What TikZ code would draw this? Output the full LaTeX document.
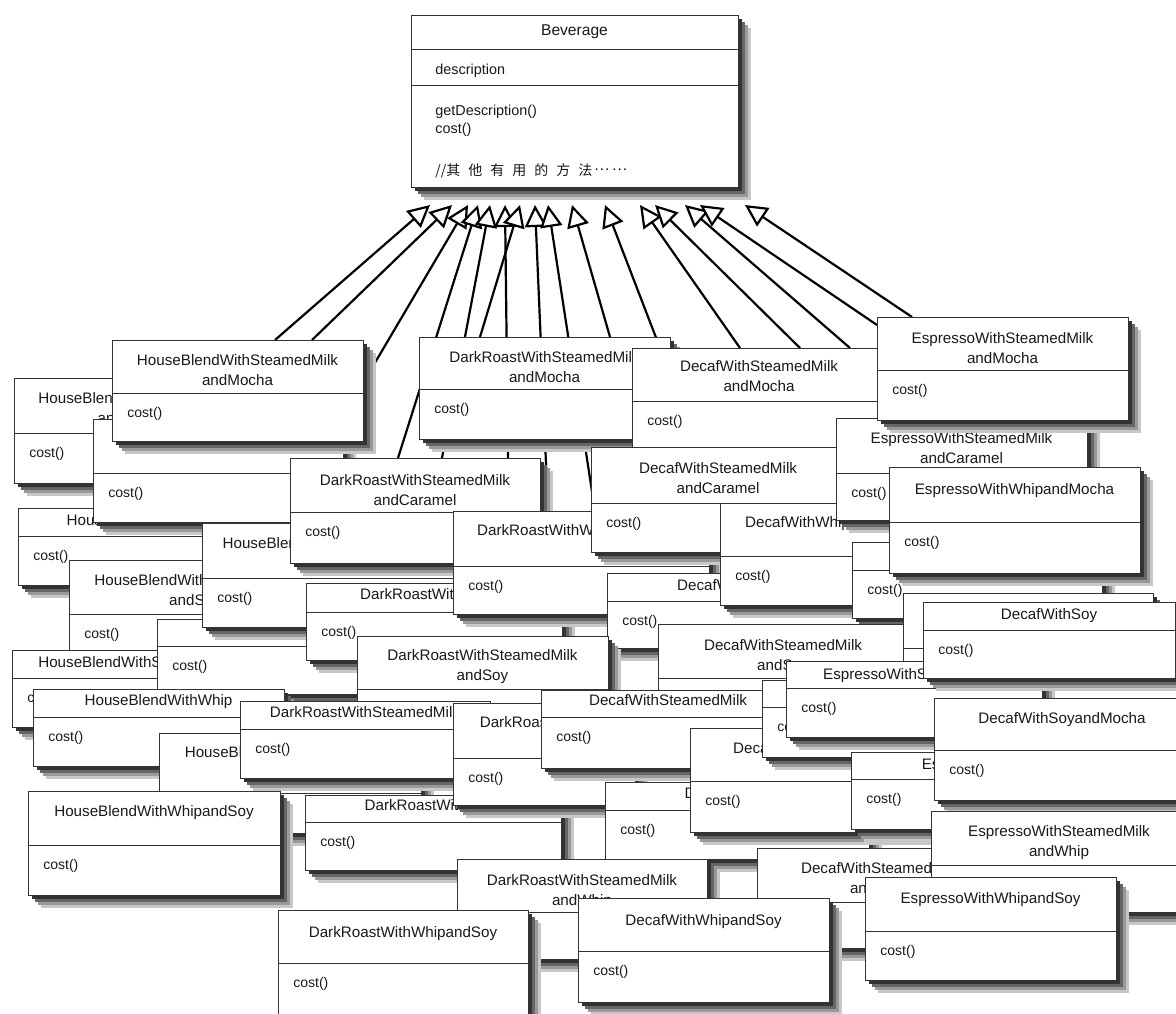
\documentclass[tikz,border=0pt]{standalone}
\usepackage{fontspec}
\setmainfont{Liberation Sans}
\newfontfamily\cjk{Noto Sans CJK SC}
\usetikzlibrary{arrows.meta, calc, shadows}
\pgfdeclarelayer{background}
\pgfsetlayers{background,main}

% one class box: name, left, top, width, height, divider, title centre, title
\newcommand{\klass}[8]{%
  \node[klassbox, minimum width=#4*0.5pt, minimum height=#5*0.5pt] (#1) at (#2,#3) {};
  \draw[divline] ($(#1.north west)+(0,#6)$) -- ($(#1.north east)+(0,#6)$);
  \node[klassname] (#1-name) at ($(#1.north west)+({#4/2},{#7-6})$) {#8};
  \node[klassop] (#1-op) at ($(#1.north west)+(15,{#6+24})$) {cost()};
}

\begin{document}
\begin{tikzpicture}[
  x=0.5pt, y=-0.5pt,
  klassbox/.style={rectangle, draw=black!80, line width=0.5pt, fill=white,
                   anchor=north west, inner sep=0pt, outer sep=0pt,
                   general shadow={shadow xshift=6.5pt, shadow yshift=-6.5pt, fill=black!22, draw=none},
                   general shadow={shadow xshift=5pt, shadow yshift=-5pt, fill=black!40, draw=none},
                   general shadow={shadow xshift=3.5pt, shadow yshift=-3.5pt, fill=black!60, draw=none},
                   general shadow={shadow xshift=2pt, shadow yshift=-2pt, fill=black!80, draw=none}},
  divline/.style={draw=black!80, line width=0.5pt},
  klassname/.style={anchor=north, inner sep=0pt, align=center,
                    font=\fontsize{7.6}{10}\selectfont, text=black!90},
  klassop/.style={anchor=base west, inner sep=0pt,
                  font=\fontsize{7}{8}\selectfont, text=black!90},
  isa/.style={-{Triangle[length=11pt, width=11pt, fill=white]}, line width=1.1pt, black}
]
  \useasboundingbox (0,0) rectangle (1176,1013);

  % the superclass
  \node[klassbox, minimum width=163.5pt, minimum height=86pt] (bev) at (411,15) {};
  \draw[divline] ($(bev.north west)+(0,34)$) -- ($(bev.north east)+(0,34)$);
  \draw[divline] ($(bev.north west)+(0,70)$) -- ($(bev.north east)+(0,70)$);
  \node[klassname, font=\fontsize{7.8}{10}\selectfont] (bev-name) at ($(bev.north west)+(163.5,9)$) {Beverage};
  \node[klassop, font=\fontsize{7.2}{9}\selectfont] (bev-attr) at ($(bev.north west)+(24,59)$) {description};
  \node[klassop, font=\fontsize{7.2}{9}\selectfont] (bev-op1) at ($(bev.north west)+(24,100)$) {getDescription()};
  \node[klassop, font=\fontsize{7.2}{9}\selectfont] (bev-op2) at ($(bev.north west)+(24,118)$) {cost()};
  \node[klassop, font=\cjk\fontsize{7}{8}\selectfont] (bev-note) at ($(bev.north west)+(24,160)$)
    {//其\hspace{4pt}他\hspace{4pt}有\hspace{4pt}用\hspace{4pt}的\hspace{4pt}方\hspace{4pt}法\hspace{1pt}\raisebox{2.5pt}{…\hspace{1.5pt}…}};

  % the subclasses, back to front
  \klass{hbsmc}{14}{378}{250}{105}{55}{20}{HouseBlendWithSteamedMilk\\andCaramel}
  \klass{hbm}{18}{508}{256}{77}{28}{12}{HouseBlendWithMocha}
  \klass{hbc}{93}{419}{250}{103}{54}{16}{HouseBlendWithSteamedMilk}
  \klass{hbsmm}{112}{340}{251}{101}{53}{20}{HouseBlendWithSteamedMilk\\andMocha}
  \klass{hbsms}{69}{560}{252}{103}{54}{20}{HouseBlendWithSteamedMilk\\andSoy}
  \klass{hbs}{12}{650}{192}{77}{28}{12}{HouseBlendWithSoy}
  \klass{hbcar}{157}{619}{286}{75}{27}{14}{HouseBlendWithCaramel}
  \klass{hbwm}{202}{523}{260}{104}{55}{20}{HouseBlendWithWhipandMocha}
  \klass{drsmc}{290}{458}{250}{105}{54}{22}{DarkRoastWithSteamedMilk\\andCaramel}
  \klass{drm}{306}{583}{256}{77}{29}{11}{DarkRoastWithMocha}
  \klass{drsmm}{419}{337}{251}{102}{52}{20}{DarkRoastWithSteamedMilk\\andMocha}
  \klass{drwm}{453}{511}{256}{103}{55}{19}{DarkRoastWithWhipandMocha}
  \klass{decsmm}{632}{348}{254}{100}{53}{18}{DecafWithSteamedMilk\\andMocha}
  \klass{decsmc}{591}{447}{254}{105}{56}{21}{DecafWithSteamedMilk\\andCaramel}
  \klass{decm}{607}{573}{256}{75}{28}{12}{DecafWithMocha}
  \klass{decwm}{720}{503}{226}{102}{53}{19}{DecafWithWhipandMocha}
  \klass{espsmc}{836}{418}{251}{102}{55}{20}{EspressoWithSteamedMilk\\andCaramel}
  \klass{espsmm}{877}{317}{251}{103}{53}{21}{EspressoWithSteamedMilk\\andMocha}
  \klass{espm}{852}{542}{250}{76}{28}{12}{EspressoWithMocha}
  \klass{espwm}{889}{467}{251}{106}{55}{22}{EspressoWithWhipandMocha}
  \klass{drsms}{357}{636}{251}{105}{53}{19}{DarkRoastWithSteamedMilk\\andSoy}
  \klass{decsms}{658}{624}{250}{101}{54}{21}{DecafWithSteamedMilk\\andSoy}
  \klass{esps}{903}{593}{250}{85}{55}{21}{EspressoWithSoy}
  \klass{hbw}{33}{689}{251}{77}{28}{11}{HouseBlendWithWhip}
  \klass{hbsm}{159}{733}{262}{100}{60}{19}{HouseBlendWithSoyandMocha}
  \klass{drsm}{240}{701}{250}{77}{28}{11}{DarkRoastWithSteamedMilk}
  \klass{hbws}{28}{791}{252}{104}{54}{20}{HouseBlendWithWhipandSoy}
  \klass{drw}{305}{795}{256}{75}{27}{10}{DarkRoastWithWhip}
  \klass{drs}{453}{703}{182}{102}{55}{19}{DarkRoastWithSoy}
  \klass{decsm}{541}{690}{254}{78}{27}{10}{DecafWithSteamedMilk}
  \klass{decw}{605}{782}{264}{77}{28}{11}{DecafWithWhip}
  \klass{decmw}{690}{728}{262}{104}{53}{20}{DecafWithMochaandWhip}
  \klass{espc}{762}{680}{250}{77}{27}{12}{EspressoWithCaramel}
  \klass{espsm}{786}{661}{256}{76}{27}{13}{EspressoWithSteamedMilk}
  \klass{decs}{923}{602}{252}{76}{28}{12}{DecafWithSoy}
  \klass{espw}{851}{752}{270}{77}{27}{12}{EspressoWithWhip}
  \klass{decsmo}{934}{698}{256}{102}{52}{20}{DecafWithSoyandMocha}
  \klass{drsmw}{457}{859}{250}{100}{53}{21}{DarkRoastWithSteamedMilk\\andWhip}
  \klass{drws}{278}{910}{250}{110}{53}{22}{DarkRoastWithWhipandSoy}
  \klass{decsmw}{757}{848}{246}{100}{54}{20}{DecafWithSteamedMilk\\andWhip}
  \klass{espsmw}{931}{811}{256}{101}{54}{20}{EspressoWithSteamedMilk\\andWhip}
  \klass{decws}{578}{898}{251}{104}{53}{22}{DecafWithWhipandSoy}
  \klass{espws}{865}{877}{251}{103}{54}{21}{EspressoWithWhipandSoy}

  % inheritance arrows, behind all boxes
  \begin{pgfonlayer}{background}
    \draw[isa] ($(hbsmm.north west)+(163,0)$) -- ($(bev.south west)+(19,18)$);
    \draw[isa] ($(hbsmm.north west)+(200,0)$) -- ($(bev.south west)+(41,18)$);
    \draw[isa] ($(hbsmm.north east)+(0,43)$) -- ($(bev.south west)+(57,18)$);
    \draw[isa] ($(drsmc.north west)+(108,0)$) -- ($(bev.south west)+(67,18)$);
    \draw[isa] ($(drsmc.north west)+(152,0)$) -- ($(bev.south west)+(79,18)$);
    \draw[isa] ($(drsmc.north west)+(218,0)$) -- ($(bev.south west)+(94,18)$);
    \draw[isa] ($(drsmm.north west)+(61,0)$) -- ($(bev.south west)+(109,18)$);
    \draw[isa] ($(drwm.north west)+(95,0)$) -- ($(bev.south west)+(124,18)$);
    \draw[isa] ($(drwm.north west)+(142,0)$) -- ($(bev.south west)+(137,18)$);
    \draw[isa] ($(drsmm.north west)+(191,0)$) -- ($(bev.south west)+(161,18)$);
    \draw[isa] ($(decsmm.north west)+(28,0)$) -- ($(bev.south west)+(194,18)$);
    \draw[isa] ($(decsmm.north west)+(108,0)$) -- ($(bev.south west)+(229,18)$);
    \draw[isa] ($(decsmm.north west)+(168,0)$) -- ($(bev.south west)+(244,18)$);
    \draw[isa] ($(decsmm.north west)+(218,0)$) -- ($(bev.south west)+(274,18)$);
    \draw[isa] ($(espsmm.north west)+(0,8)$) -- ($(bev.south west)+(289,18)$);
    \draw[isa] ($(espsmm.north west)+(35,0)$) -- ($(bev.south west)+(334,18)$);
  \end{pgfonlayer}
\end{tikzpicture}
\end{document}
